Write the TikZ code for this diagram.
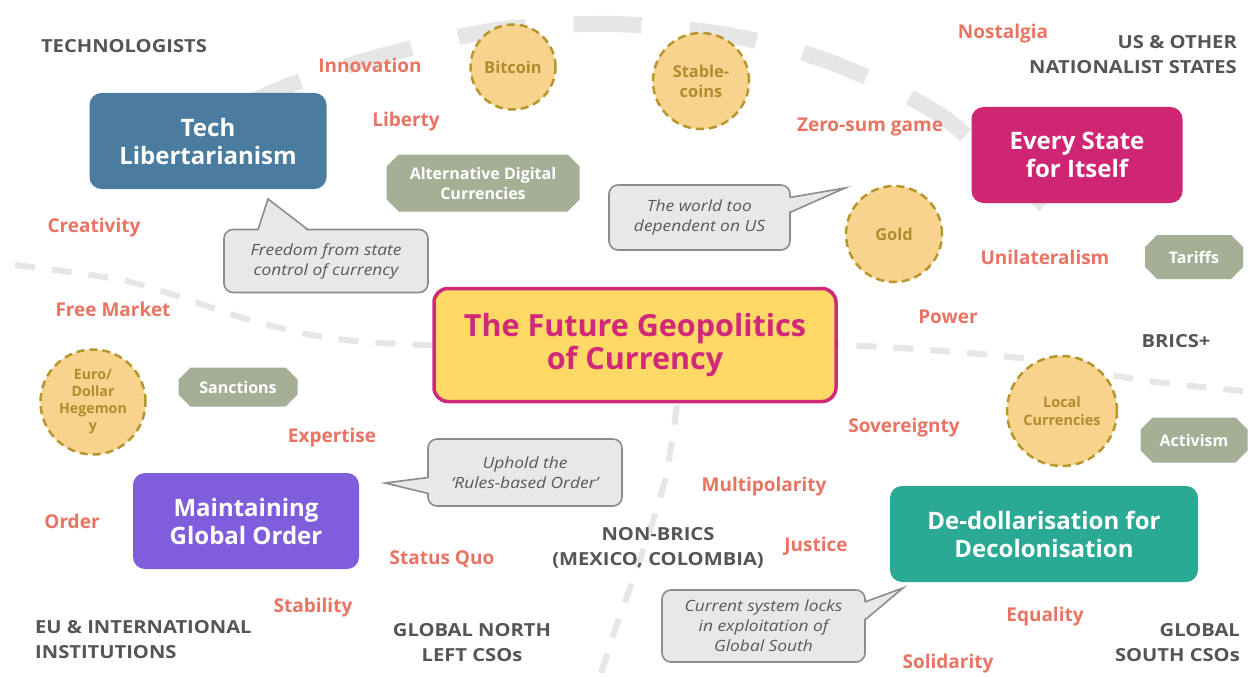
\documentclass[tikz,border=0pt]{standalone}
\usepackage{fontspec}
\setmainfont{Open Sans}
\newfontfamily\widefont[FakeStretch=1.12,Ligatures=TeX]{Open Sans}
\usepackage{tikz}
\usetikzlibrary{shapes.misc}

\definecolor{techblue}{HTML}{4A7C9F}
\definecolor{statepink}{HTML}{CF2673}
\definecolor{orderpurple}{HTML}{805DDB}
\definecolor{dedolteal}{HTML}{2AA994}
\definecolor{centerfill}{HTML}{FFD966}
\definecolor{centerline}{HTML}{D1287A}
\definecolor{tagfill}{HTML}{A5AF96}
\definecolor{coinfill}{HTML}{F8D38E}
\definecolor{coinline}{HTML}{B8962E}
\definecolor{cointext}{HTML}{B08D2C}
\definecolor{bubblefill}{HTML}{E8E8E8}
\definecolor{bubbleline}{HTML}{8C8C8C}
\definecolor{bubbletext}{HTML}{595959}
\definecolor{valuecol}{HTML}{EA7463}
\definecolor{groupcol}{HTML}{555555}
\definecolor{dashgrey}{HTML}{E6E6E6}

\begin{document}
\begin{tikzpicture}[x=1pt,y=-1pt,
  theme/.style={rounded corners=12pt,text=white,align=center,inner sep=0pt,
    font=\bfseries\fontsize{24}{28}\selectfont},
  tag/.style={chamfered rectangle,chamfered rectangle xsep=6pt,chamfered rectangle ysep=6pt,
    fill=tagfill,text=white,align=center,inner sep=0pt,font=\bfseries\fontsize{16}{20}\selectfont},
  coin/.style={circle,fill=coinfill,draw=coinline,line width=2.5pt,dash pattern=on 8pt off 5pt,
    text=cointext,align=center,inner sep=0pt,font=\bfseries\fontsize{16.4}{20}\selectfont},
  bubble/.style={fill=bubblefill,draw=bubbleline,line width=1.6pt,rounded corners=9pt,
    text=bubbletext,align=center,inner sep=0pt,font=\widefont\itshape\fontsize{15.5}{20}\selectfont},
  tail/.style={fill=bubblefill},
  tailedge/.style={draw=bubbleline,line width=1.6pt},
  value/.style={text=valuecol,inner sep=0pt,font=\bfseries\fontsize{19}{22}\selectfont},
  group/.style={text=groupcol,inner sep=0pt,font=\widefont\bfseries\fontsize{18}{25}\selectfont},
  zone/.style={draw=dashgrey,line width=6pt,dash pattern=on 20pt off 17pt}]

\useasboundingbox[fill=white] (0,0) rectangle (1254,677);

\draw[dashgrey,line width=16pt,dash pattern=on 68pt off 48pt,dash phase=90pt]
  plot[smooth] coordinates {(215,120) (290,85) (385,55) (497,30) (613,24) (728,35) (830,62) (940,115) (1045,205)};
\draw[zone] plot[smooth] coordinates {(15,265) (130,282) (250,320) (330,338) (430,345) (640,345) (840,345) (1020,358) (1140,380) (1254,392)};
\draw[zone] plot[smooth] coordinates {(677,405) (665,480) (640,560) (615,630) (600,677)};

\node[rounded corners=14pt,fill=centerfill,draw=centerline,line width=3.5pt,text=centerline,align=center,
  minimum width=402,minimum height=113,font=\bfseries\fontsize{30.5}{33}\selectfont]
  (future) at (635,345) {The Future Geopolitics\\of Currency};

\node[theme,fill=techblue,minimum width=237,minimum height=96] (tech) at (208,141) {Tech\\Libertarianism};
\node[theme,fill=statepink,minimum width=211,minimum height=96] (state) at (1077,155) {Every State\\for Itself};
\node[theme,fill=orderpurple,minimum width=226,minimum height=96] (order) at (246,521) {Maintaining\\Global Order};
\node[theme,fill=dedolteal,minimum width=308,minimum height=96] (dedol) at (1044,534) {De-dollarisation for\\Decolonisation};

\node[tag,minimum width=193,minimum height=57] (altdig) at (483,183) {Alternative Digital\\Currencies};
\node[tag,minimum width=119,minimum height=39] (sanct) at (238,387) {Sanctions};
\node[tag,minimum width=98,minimum height=44] (tariff) at (1194,257) {Tariffs};
\node[tag,minimum width=107,minimum height=45] (activ) at (1194,440) {Activism};

\node[coin,minimum size=85] (bitcoin) at (513,67) {Bitcoin};
\node[coin,minimum size=96] (stable) at (701,81) {Stable-\\coins};
\node[coin,minimum size=96] (gold) at (894,234) {Gold};
\node[coin,minimum size=105,font=\bfseries\fontsize{14.2}{17}\selectfont] (hegemony) at (93,402) {Euro/\\Dollar\\Hegemon\\y};
\node[coin,minimum size=110,font=\bfseries\fontsize{14.5}{18}\selectfont] (local) at (1062,411) {Local\\Currencies};

\node[bubble,minimum width=204,minimum height=63] (freedom) at (326,261) {Freedom from state\\control of currency};
\coordinate (freedomtip) at (268,199);
\fill[tail] ([xshift=-68pt,yshift=-3pt]freedom.north) -- (freedomtip) -- ([xshift=-18pt,yshift=-3pt]freedom.north) -- cycle;
\draw[tailedge] ([xshift=-68pt,yshift=-1pt]freedom.north) -- (freedomtip) -- ([xshift=-18pt,yshift=-1pt]freedom.north);

\node[bubble,minimum width=181,minimum height=65] (world) at (699.5,217.5) {The world too\\dependent on US};
\coordinate (worldtip) at (845,188);
\fill[tail] ([xshift=-3pt,yshift=20pt]world.east) -- (worldtip) -- ([xshift=-3pt,yshift=5pt]world.east) -- cycle;
\draw[tailedge] ([xshift=-1pt,yshift=20pt]world.east) -- (worldtip) -- ([xshift=-1pt,yshift=5pt]world.east);

\node[bubble,minimum width=194,minimum height=67] (uphold) at (525,472.5) {Uphold the\\‘Rules-based Order’};
\coordinate (upholdtip) at (385,483);
\fill[tail] ([xshift=3pt,yshift=-5pt]uphold.west) -- (upholdtip) -- ([xshift=3pt,yshift=-21pt]uphold.west) -- cycle;
\draw[tailedge] ([xshift=1pt,yshift=-5pt]uphold.west) -- (upholdtip) -- ([xshift=1pt,yshift=-21pt]uphold.west);

\node[bubble,minimum width=203,minimum height=72] (current) at (763.5,626) {Current system locks\\in exploitation of\\Global South};
\coordinate (currenttip) at (903,588);
\fill[tail] ([xshift=-3pt,yshift=24pt]current.east) -- (currenttip) -- ([xshift=-3pt,yshift=6pt]current.east) -- cycle;
\draw[tailedge] ([xshift=-1pt,yshift=24pt]current.east) -- (currenttip) -- ([xshift=-1pt,yshift=6pt]current.east);

\foreach \nm/\x/\y/\txt in {innov/370/65/Innovation,liberty/406/122/Liberty,creat/94/228/Creativity,
    freemkt/113/309/Free Market,nostal/1003/34/Nostalgia,zerosum/870/127/Zero-sum game,
    unilat/1045/257/Unilateralism,power/948/317/Power,sovrn/904/428/Sovereignty,
    expert/332/438/Expertise,orderw/72/521/Order,quo/442/559/Status Quo,stabil/313/608/Stability,
    multip/764/487/Multipolarity,justice/816/546/Justice,equal/1045/617/Equality,solid/948/664/Solidarity}
  \node[value] (\nm) at (\x,\y) {\txt};

\node[group] (technol) at (124,46) {TECHNOLOGISTS};
\node[group,anchor=east,align=right] (usnat) at (1237,55) {US \& OTHER\\NATIONALIST STATES};
\node[group] (brics) at (1176,341) {BRICS+};
\node[group,anchor=west,align=left] (euinst) at (35,640) {EU \& INTERNATIONAL\\INSTITUTIONS};
\node[group,align=center] (gnleft) at (472,643) {GLOBAL NORTH\\LEFT CSOs};
\node[group,align=center] (nonbrics) at (658,548) {NON-BRICS\\(MEXICO, COLOMBIA)};
\node[group,anchor=east,align=right] (gsouth) at (1240,643) {GLOBAL\\SOUTH CSOs};

\end{tikzpicture}
\end{document}
